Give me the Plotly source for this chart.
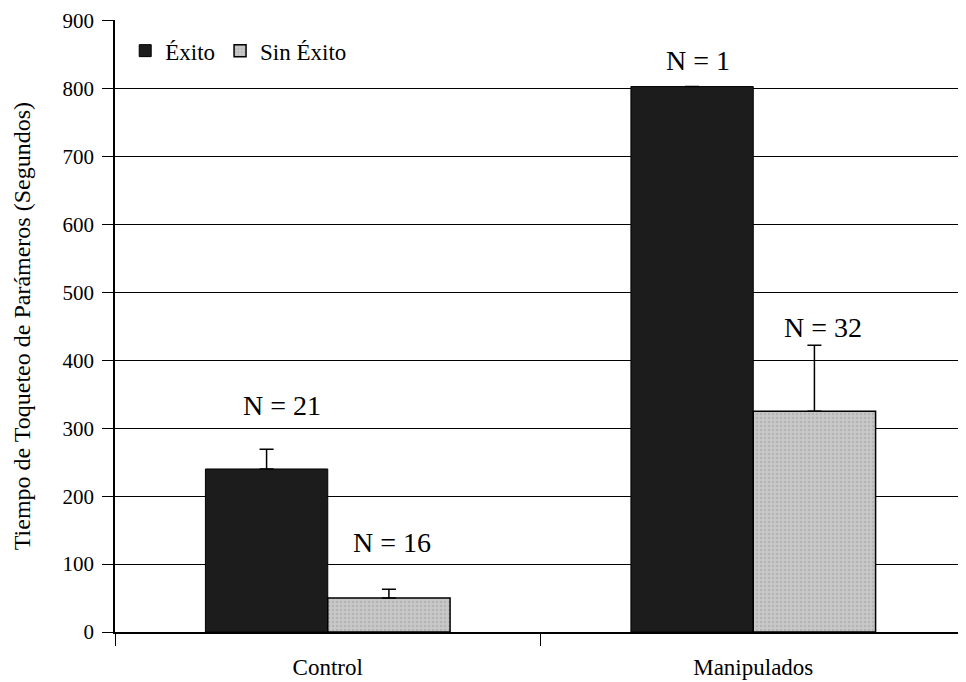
import plotly.graph_objects as go

categories = ["Control", "Manipulados"]
exito_vals = [240, 803]
exito_err = [29, None]
sin_exito_vals = [50, 325]
sin_exito_err = [13, 97]
n_labels = ["N = 21", "N = 16", "N = 1", "N = 32"]
n_label_y = [334, 132, 841, 448]
n_label_x = [-0.108, 0.150, 0.870, 1.163]
y_ticks = [0, 100, 200, 300, 400, 500, 600, 700, 800, 900]
y_title = "Tiempo de Toqueteo de Parámeros (Segundos)"

FONT = "Liberation Serif"

fig = go.Figure()
fig.add_trace(go.Bar(
    x=categories, y=exito_vals, name="Éxito",
    marker=dict(color="#1c1c1c", line=dict(color="#000000", width=1)),
    error_y=dict(type="data", array=exito_err, arrayminus=[0, 0], symmetric=False,
                 color="#000000", thickness=1.5, width=7),
))
fig.add_trace(go.Bar(
    x=categories, y=sin_exito_vals, name="Sin Éxito",
    marker=dict(color="#c8c8c8", line=dict(color="#000000", width=1.5),
                pattern=dict(shape=".", fgcolor="#a0a0a0", size=4, solidity=0.3)),
    error_y=dict(type="data", array=sin_exito_err, arrayminus=[0, 0], symmetric=False,
                 color="#000000", thickness=1.5, width=7),
))

for txt, xx, yy in zip(n_labels, n_label_x, n_label_y):
    fig.add_annotation(x=xx, y=yy, xref="x", yref="y", text=txt, showarrow=False,
                       font=dict(family=FONT, size=28, color="#000000"))

fig.add_annotation(x=-0.109, y=0.5, xref="paper", yref="paper", text=y_title,
                   textangle=-90, showarrow=False, xanchor="center", yanchor="middle",
                   font=dict(family=FONT, size=24, color="#000000"))

fig.update_layout(
    width=958, height=674,
    margin=dict(l=107, r=0, t=12, b=50),
    paper_bgcolor="white", plot_bgcolor="white",
    barmode="group", bargap=0.425, bargroupgap=0,
    font=dict(family=FONT, size=20, color="#000000"),
    showlegend=True,
    legend=dict(orientation="h", x=0.012, y=0.985, xanchor="left", yanchor="top",
                font=dict(family=FONT, size=23), bgcolor="rgba(0,0,0,0)",
                itemwidth=30, tracegroupgap=0),
)
fig.update_xaxes(
    type="category", range=[-0.5, 1.5], automargin=False,
    showline=True, linecolor="#000000", linewidth=1.5,
    ticks="outside", tickson="boundaries", ticklen=12, tickcolor="#000000",
    tickfont=dict(family=FONT, size=23), ticklabelstandoff=14,
    showgrid=False,
)
fig.update_yaxes(
    range=[0, 901], tickvals=y_ticks, automargin=False,
    showline=True, linecolor="#000000", linewidth=1.5,
    ticks="outside", ticklen=11, tickcolor="#000000",
    tickfont=dict(family=FONT, size=21), ticklabelstandoff=4,
    showgrid=True, gridcolor="#000000", gridwidth=1,
    zeroline=False,
)

fig.write_html("out.html")
